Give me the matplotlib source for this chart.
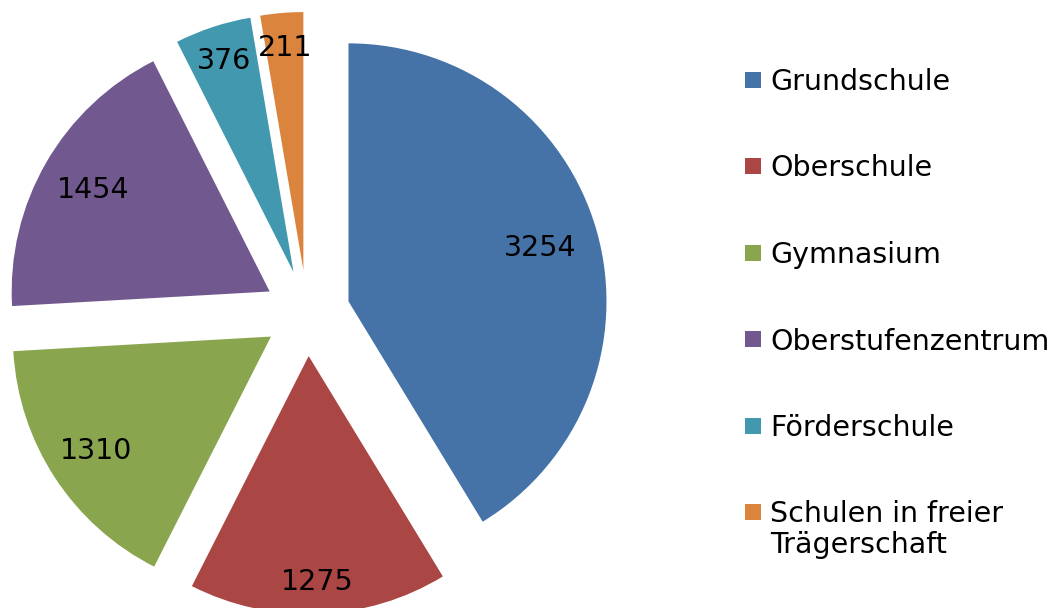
import matplotlib
matplotlib.use("Agg")
import matplotlib.pyplot as plt
import numpy as np
from matplotlib.patches import Rectangle

categories = ["Grundschule", "Oberschule", "Gymnasium", "Oberstufenzentrum",
              "Förderschule", "Schulen in freier\nTrägerschaft"]
values = [3254, 1275, 1310, 1454, 376, 211]
colors = ["#4572A7", "#AA4643", "#89A54E", "#71588F", "#4198AF", "#DB843D"]

W, H = 1059, 608
fig = plt.figure(figsize=(W / 100, H / 100), dpi=100)
ax = fig.add_axes([0, 0, 1, 1])

R = 258.0           # radius in px
cx, cy = 307.0, 313.0  # pie center in px (from top)
explode = [0.167] * len(values)
wedges, _ = ax.pie(values, colors=colors, startangle=90, counterclock=False,
                   explode=explode, radius=1.0,
                   wedgeprops=dict(linewidth=0))
ax.set_aspect("auto")
ax.set_xlim(-cx / R, (W - cx) / R)
ax.set_ylim(-(H - cy) / R, cy / R)
ax.axis("off")

label_dist = [0.77, 0.875, 0.81, 0.79, 0.86, 0.865]
for w, v, d in zip(wedges, values, label_dist):
    ang = np.deg2rad((w.theta1 + w.theta2) / 2)
    x = w.center[0] + d * np.cos(ang)
    y = w.center[1] + d * np.sin(ang)
    ax.text(x, y, str(v), ha="center", va="center", fontsize=20.5, color="black")

# legend drawn manually
ys = [79.5, 166, 252.5, 339, 425.5, 512]
for lab, col, y in zip(categories, colors, ys):
    fig.patches.append(Rectangle((745 / W, 1 - (y + 8) / H), 16 / W, 16 / H,
                                 transform=fig.transFigure, facecolor=col,
                                 edgecolor="none"))
    fig.text(770 / W, 1 - (y - 11.5) / H, lab, ha="left", va="top", fontsize=20.5,
             color="black", linespacing=1.12)

fig.savefig("out.png", dpi=100)
